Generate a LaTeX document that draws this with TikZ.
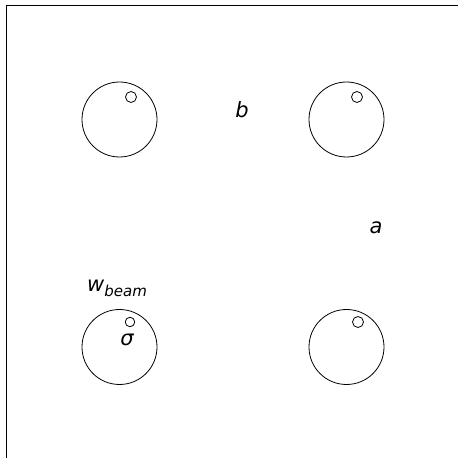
\documentclass[tikz,border=0pt]{standalone}
\usepackage{fontspec}
\setmainfont{DejaVu Sans}
\begin{document}
\begin{tikzpicture}[x=1pt,y=1pt,
  frameline/.style={line width=1pt},
  bigcirc/.style={draw,circle,line width=0.8pt,minimum size=75pt,inner sep=0pt},
  smallcirc/.style={draw,circle,line width=0.8pt,minimum size=11pt,inner sep=0pt},
  lbl/.style={inner sep=0pt,font=\fontsize{21}{25}\selectfont\itshape}]
\useasboundingbox (0,0) rectangle (458,458);
\coordinate (fb) at (6,0);
\coordinate (fc) at (6,452);
\coordinate (fr) at (458,452);
\draw[frameline] (fb) -- (fc) -- (fr);
\node[bigcirc] (c1) at (119.5,338.5) {};
\node[bigcirc] (c2) at (346.5,338.5) {};
\node[bigcirc] (c3) at (119.5,111) {};
\node[bigcirc] (c4) at (346.5,111) {};
\node[smallcirc] (s1) at (131,361) {};
\node[smallcirc] (s2) at (357,361) {};
\node[smallcirc,minimum size=9.5pt] (s3) at (130,136) {};
\node[smallcirc] (s4) at (358,136) {};
\node[lbl] (b) at (242,348) {b};
\node[lbl] (a) at (376,230) {a};
\node[lbl] (w) at (117,170) {w\raisebox{-0.25em}{\fontsize{15}{17}\selectfont beam}};
\node[lbl] (sig) at (127,118) {σ};
\end{tikzpicture}
\end{document}
